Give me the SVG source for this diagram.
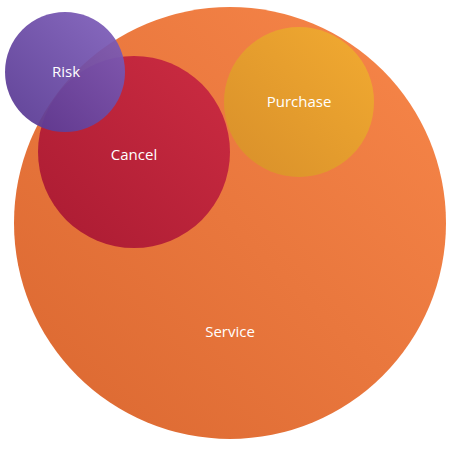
<svg xmlns="http://www.w3.org/2000/svg" width="450" height="450" viewBox="0 0 450 450">
<defs>
<linearGradient id="gS" x1="0" y1="1" x2="1" y2="0"><stop offset="0" stop-color="#DA6730"/><stop offset="1" stop-color="#F8874A"/></linearGradient>
<linearGradient id="gC" x1="0" y1="1" x2="1" y2="0"><stop offset="0" stop-color="#AA1B32"/><stop offset="1" stop-color="#CC2C42"/></linearGradient>
<linearGradient id="gP" x1="0" y1="1" x2="1" y2="0"><stop offset="0" stop-color="#D88F2A"/><stop offset="1" stop-color="#F2AB31"/></linearGradient>
<linearGradient id="gR" x1="0" y1="1" x2="1" y2="0"><stop offset="0" stop-color="#55358F"/><stop offset="1" stop-color="#8060BC"/></linearGradient>
</defs>
<style>
text{font-family:"Open Sans","Noto Sans",sans-serif;font-size:15px;fill:#fff;text-anchor:middle;dominant-baseline:central}
</style>
<g id="service"><circle cx="230" cy="223" r="216" fill="url(#gS)"/><text x="230" y="331">Service</text></g>
<g id="purchase"><circle cx="299" cy="102" r="75" fill="url(#gP)"/><text x="299" y="101">Purchase</text></g>
<g id="cancel"><circle cx="134" cy="152" r="96" fill="url(#gC)"/><text x="134" y="154">Cancel</text></g>
<g id="risk"><circle cx="65" cy="72" r="60" fill="url(#gR)" fill-opacity="0.93"/><text x="66" y="71">Risk</text></g>
<g id="connectors"/>
</svg>
